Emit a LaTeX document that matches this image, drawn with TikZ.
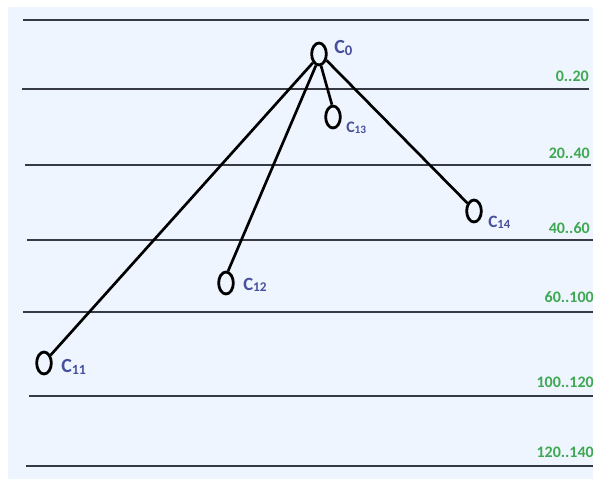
\documentclass[tikz,border=0pt]{standalone}
\usepackage{fontspec}
\setmainfont{Carlito}
\usetikzlibrary{shapes.geometric}
\definecolor{bgblue}{RGB}{238,245,254}
\definecolor{lvlgreen}{RGB}{62,168,82}
\definecolor{nodeblue}{RGB}{72,80,158}
\definecolor{lvlline}{RGB}{55,58,66}
\begin{document}
\begin{tikzpicture}[x=0.75pt,y=-0.75pt,
  lvl/.style={draw=lvlline,line width=0.9pt},
  vert/.style={draw,ellipse,line width=2.1pt,minimum width=11pt,minimum height=16.5pt,inner sep=0pt},
  edge/.style={draw,line width=2pt},
  nlab/.style={text=nodeblue,font=\bfseries\fontsize{15}{15}\selectfont,inner sep=0pt,anchor=west},
  rlab/.style={text=lvlgreen,font=\bfseries\fontsize{12}{12}\selectfont,inner sep=0pt,anchor=east}]
\useasboundingbox (0,0) rectangle (593,483);
\fill[white] (0,0) rectangle (593,483);
\fill[bgblue] (8,7) rectangle (593,479);
\draw[lvl] (23,20) -- (589,20);
\draw[lvl] (22,89) -- (589,89);
\draw[lvl] (25,165) -- (591,165);
\draw[lvl] (27,240) -- (593,240);
\draw[lvl] (23,312) -- (593,312);
\draw[lvl] (29,396) -- (593,396);
\draw[lvl] (26,466) -- (593,466);
\node[rlab] (r1) at (589,76) {0..20};
\node[rlab] (r2) at (590,153) {20..40};
\node[rlab] (r3) at (590,228) {40..60};
\node[rlab] (r4) at (594,297) {60..100};
\node[rlab] (r5) at (594,382) {100..120};
\node[rlab] (r6) at (594,452) {120..140};
\node[vert] (c0) at (319,54) {};
\node[vert] (c13) at (333,117) {};
\node[vert] (c14) at (474,211) {};
\node[vert] (c12) at (226,283) {};
\node[vert] (c11) at (44,363) {};
\node[nlab] (l0) at (334,48) {C\raisebox{-1pt}{\fontsize{11}{11}\selectfont 0}};
\node[nlab,font=\bfseries\fontsize{12}{12}\selectfont] (l13) at (346,128) {C\raisebox{-1pt}{\fontsize{8.5}{8.5}\selectfont 13}};
\node[nlab,font=\bfseries\fontsize{13}{13}\selectfont] (l14) at (488,222) {C\raisebox{-1pt}{\fontsize{9.5}{9.5}\selectfont 14}};
\node[nlab,font=\bfseries\fontsize{14}{14}\selectfont] (l12) at (243,285) {C\raisebox{-1pt}{\fontsize{10}{10}\selectfont 12}};
\node[nlab] (l11) at (61,367) {C\raisebox{-1pt}{\fontsize{10.5}{10.5}\selectfont 11}};
\draw[edge] (c0.-125) -- (c11.50);
\draw[edge] (c0.-105) -- (c12.80);
\draw[edge] (c0.-80) -- (c13.95);
\draw[edge] (c0.-40) -- (c14.130);
\end{tikzpicture}
\end{document}
